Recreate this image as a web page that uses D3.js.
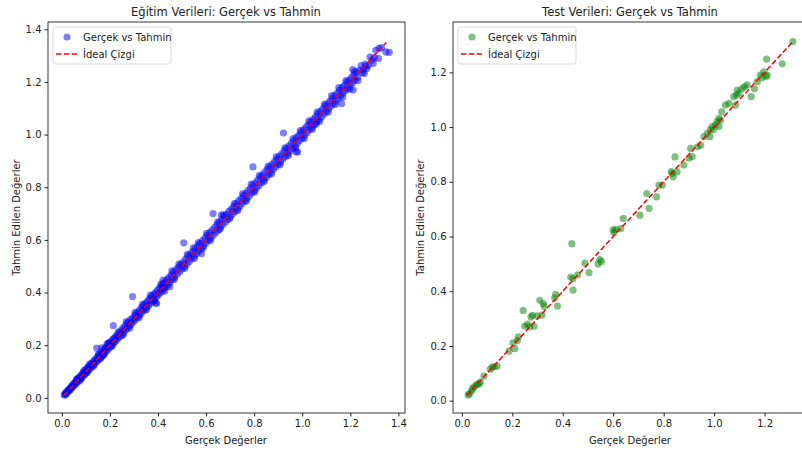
<!DOCTYPE html>
<html lang="tr">
<head>
  <meta charset="utf-8">
  <title>Gerçek vs Tahmin</title>
  <script src="https://d3js.org/d3.v7.min.js"></script>
  <style>
    body { margin: 0; background: #fff; }
    svg text { font-family: "DejaVu Sans", sans-serif; fill: #222; }
    .tick line { stroke: #222; }
  </style>
</head>
<body>
  <svg width="802" height="452" id="chart"></svg>

  <script type="text/javascript">
    // egitim verileri [gercek, tahmin]
    const trainPoints = [
      [0.010,0.012],[0.013,0.010],[0.015,0.018],[0.018,0.016],[0.020,0.024],[0.022,0.019],[0.025,0.028],[0.027,0.024],
      [0.030,0.033],[0.032,0.029],[0.035,0.038],[0.037,0.033],[0.040,0.044],[0.042,0.039],[0.045,0.049],[0.047,0.043],
      [0.050,0.054],[0.052,0.048],[0.055,0.060],[0.058,0.053],[0.060,0.066],[0.062,0.058],[0.065,0.070],[0.068,0.062],
      [0.070,0.076],[0.072,0.067],[0.075,0.080],[0.078,0.073],[0.080,0.086],[0.083,0.077],[0.085,0.091],[0.088,0.082],
      [0.090,0.097],[0.093,0.087],[0.095,0.101],[0.098,0.092],[0.100,0.108],[0.103,0.097],[0.105,0.112],[0.108,0.103],
      [0.110,0.118],[0.113,0.107],[0.116,0.122],[0.119,0.113],[0.122,0.130],[0.125,0.118],[0.128,0.134],[0.131,0.125],
      [0.134,0.142],[0.137,0.130],[0.140,0.146],[0.143,0.137],[0.146,0.153],[0.149,0.141],[0.152,0.160],[0.155,0.147],
      [0.158,0.165],[0.161,0.153],[0.164,0.172],[0.167,0.158],[0.170,0.177],[0.173,0.165],[0.176,0.184],[0.179,0.171],
      [0.182,0.190],[0.185,0.177],[0.188,0.197],[0.191,0.183],[0.194,0.203],[0.197,0.190],[0.200,0.210],[0.203,0.196],
      [0.206,0.215],[0.209,0.201],[0.212,0.222],[0.215,0.207],[0.218,0.227],[0.221,0.213],[0.224,0.233],[0.227,0.219],
      [0.230,0.238],[0.234,0.226],[0.238,0.247],[0.242,0.233],[0.246,0.255],[0.250,0.241],[0.254,0.265],[0.258,0.249],
      [0.262,0.272],[0.266,0.258],[0.270,0.282],[0.274,0.265],[0.278,0.288],[0.282,0.274],[0.286,0.297],[0.290,0.281],
      [0.294,0.303],[0.298,0.290],[0.302,0.312],[0.306,0.297],[0.310,0.320],[0.314,0.306],[0.318,0.328],[0.322,0.314],
      [0.326,0.337],[0.330,0.321],[0.334,0.345],[0.338,0.330],[0.342,0.353],[0.346,0.336],[0.350,0.361],[0.354,0.344],
      [0.358,0.369],[0.362,0.352],[0.366,0.377],[0.370,0.360],[0.374,0.386],[0.378,0.368],[0.382,0.393],[0.386,0.376],
      [0.390,0.401],[0.394,0.384],[0.398,0.409],[0.402,0.392],[0.406,0.418],[0.410,0.399],[0.414,0.426],[0.418,0.407],
      [0.422,0.434],[0.426,0.416],[0.430,0.441],[0.434,0.423],[0.438,0.450],[0.442,0.431],[0.446,0.458],[0.450,0.439],
      [0.455,0.467],[0.460,0.450],[0.465,0.478],[0.470,0.459],[0.475,0.487],[0.480,0.470],[0.485,0.497],[0.490,0.479],
      [0.495,0.508],[0.500,0.489],[0.505,0.516],[0.510,0.499],[0.515,0.527],[0.520,0.508],[0.525,0.537],[0.530,0.518],
      [0.535,0.547],[0.540,0.528],[0.545,0.556],[0.550,0.538],[0.555,0.567],[0.560,0.548],[0.565,0.577],[0.570,0.557],
      [0.575,0.587],[0.580,0.567],[0.585,0.597],[0.590,0.578],[0.595,0.607],[0.600,0.588],[0.605,0.617],[0.610,0.598],
      [0.615,0.628],[0.620,0.607],[0.625,0.637],[0.630,0.618],[0.635,0.647],[0.640,0.627],[0.645,0.657],[0.650,0.637],
      [0.655,0.668],[0.660,0.647],[0.665,0.677],[0.670,0.657],[0.675,0.687],[0.680,0.667],[0.685,0.697],[0.690,0.677],
      [0.695,0.708],[0.700,0.687],[0.705,0.717],[0.710,0.698],[0.715,0.727],[0.720,0.707],[0.725,0.738],[0.730,0.717],
      [0.735,0.748],[0.740,0.727],[0.745,0.757],[0.750,0.738],[0.755,0.768],[0.760,0.747],[0.765,0.777],[0.770,0.757],
      [0.775,0.788],[0.780,0.767],[0.785,0.797],[0.790,0.778],[0.795,0.808],[0.800,0.787],[0.805,0.817],[0.810,0.797],
      [0.815,0.828],[0.820,0.807],[0.825,0.838],[0.830,0.817],[0.835,0.847],[0.840,0.828],[0.845,0.858],[0.850,0.837],
      [0.855,0.868],[0.860,0.847],[0.865,0.877],[0.870,0.857],[0.875,0.888],[0.880,0.868],[0.885,0.897],[0.890,0.877],
      [0.895,0.908],[0.900,0.887],[0.905,0.918],[0.910,0.897],[0.915,0.927],[0.920,0.907],[0.925,0.938],[0.930,0.917],
      [0.935,0.948],[0.940,0.927],[0.945,0.957],[0.950,0.938],[0.955,0.968],[0.960,0.947],[0.965,0.977],[0.970,0.958],
      [0.975,0.988],[0.980,0.967],[0.985,0.997],[0.990,0.978],[0.995,1.008],[1.000,0.987],[1.005,1.018],[1.010,0.997],
      [1.015,1.028],[1.020,1.007],[1.025,1.037],[1.030,1.018],[1.035,1.048],[1.040,1.027],[1.045,1.058],[1.050,1.037],
      [1.055,1.067],[1.060,1.048],[1.065,1.078],[1.070,1.057],[1.075,1.088],[1.080,1.067],[1.085,1.097],[1.090,1.078],
      [1.095,1.108],[1.100,1.087],[1.105,1.118],[1.110,1.097],[1.115,1.127],[1.120,1.108],[1.125,1.138],[1.130,1.117],
      [1.135,1.148],[1.140,1.128],[1.145,1.157],[1.150,1.138],[1.155,1.168],[1.160,1.147],[1.165,1.178],[1.170,1.158],
      [1.175,1.187],[1.180,1.168],[1.185,1.198],[1.190,1.177],[1.195,1.207],[1.200,1.188],[1.205,1.217],[1.210,1.197],
      [1.215,1.227],[1.220,1.207],[1.225,1.237],[1.230,1.218],[1.240,1.245],[1.250,1.235],[1.262,1.268],[1.275,1.262],
      [1.290,1.283],[1.300,1.292],
      // bandin kenarindaki noktalar
      [0.115,0.128],[0.132,0.121],[0.175,0.163],[0.188,0.205],[0.235,0.250],[0.255,0.238],[0.268,0.290],[0.283,0.265],
      [0.305,0.325],[0.322,0.305],[0.335,0.355],[0.352,0.335],[0.368,0.390],[0.385,0.368],[0.412,0.432],[0.428,0.405],
      [0.458,0.482],[0.468,0.450],[0.487,0.508],[0.512,0.492],[0.522,0.545],[0.552,0.530],[0.568,0.590],[0.588,0.570],
      [0.602,0.625],[0.618,0.598],[0.648,0.668],[0.658,0.640],[0.672,0.695],[0.698,0.680],[0.718,0.738],[0.732,0.712],
      [0.752,0.775],[0.768,0.748],[0.788,0.812],[0.802,0.782],[0.822,0.845],[0.842,0.822],[0.858,0.880],[0.872,0.850],
      [0.892,0.915],[0.908,0.885],[0.928,0.950],[0.942,0.920],[0.962,0.985],[0.972,0.950],[0.992,1.015],[1.008,0.985],
      [1.028,1.052],[1.042,1.020],[1.062,1.085],[1.072,1.050],[1.092,1.115],[1.108,1.085],[1.122,1.148],[1.138,1.115],
      [1.152,1.178],[1.168,1.142],[1.182,1.205],[1.198,1.172],[1.218,1.240],[1.232,1.205],[1.245,1.262],[1.268,1.250],
      [1.282,1.295],[1.295,1.270],[1.330,1.330],[0.062,0.072],[0.078,0.068],[0.092,0.104],[0.105,0.096],[0.152,0.166],
      [0.162,0.150],[0.195,0.210],[0.208,0.195],
      // disaridaki noktalar
      [0.922,1.006],[0.795,0.877],[0.629,0.700],[1.212,1.169],[1.164,1.118],[1.210,1.247],[0.975,0.934],[0.981,0.934],
      [1.348,1.314],[1.362,1.312],[1.317,1.289],[1.320,1.327],[1.306,1.320],[1.255,1.245],[1.265,1.260],[1.258,1.232],
      [1.058,1.040],[0.294,0.385],[0.214,0.274],[0.145,0.189],[0.166,0.190],[0.507,0.589],[0.547,0.570],[0.581,0.548],
      [0.421,0.419],[0.449,0.422],[0.421,0.447],[0.391,0.361],[0.394,0.358],[0.664,0.694]
    ];

    // test verileri [gercek, tahmin]
    const testPoints = [
      [0.436,0.574],[0.488,0.503],[0.547,0.516],[0.553,0.508],[0.540,0.500],[0.504,0.468],[0.432,0.452],[0.440,0.445],
      [0.459,0.460],[0.441,0.404],[0.372,0.389],[0.368,0.375],[0.379,0.346],[0.309,0.367],[0.323,0.355],[0.326,0.345],
      [0.243,0.330],[0.280,0.312],[0.274,0.306],[0.300,0.310],[0.318,0.313],[0.249,0.272],[0.269,0.270],[0.260,0.280],
      [0.286,0.272],[0.224,0.233],[0.220,0.220],[0.203,0.211],[0.187,0.181],[0.210,0.190],[0.121,0.123],[0.128,0.124],
      [0.140,0.126],[0.113,0.115],[0.088,0.090],[0.069,0.062],[0.056,0.056],[0.042,0.044],[0.030,0.025],[0.025,0.021],
      [0.038,0.035],[0.073,0.068],[0.062,0.060],[0.048,0.050],
      [1.312,1.312],[1.208,1.248],[1.270,1.231],[1.197,1.202],[1.206,1.185],[1.190,1.180],[1.210,1.190],[1.183,1.190],
      [1.171,1.166],[1.147,1.111],[1.160,1.140],[1.131,1.154],[1.120,1.147],[1.110,1.140],[1.092,1.135],[1.088,1.117],
      [1.078,1.111],[1.098,1.123],[1.085,1.080],[1.058,1.087],[1.045,1.080],[1.030,1.056],[1.019,1.032],[1.012,1.020],
      [1.005,1.008],[0.992,1.002],[0.985,0.990],[0.997,0.990],[1.019,1.002],[1.025,1.025],[0.983,0.965],[0.973,0.977],
      [0.960,0.965],[0.947,0.934],[0.934,0.928],[0.907,0.922],[0.913,0.892],[0.900,0.886],[0.845,0.891],[0.880,0.861],
      [0.834,0.831],[0.838,0.818],[0.853,0.837],[0.830,0.837],[0.781,0.788],[0.795,0.788],[0.733,0.757],[0.772,0.745],
      [0.742,0.703],[0.706,0.678],[0.640,0.666],[0.610,0.626],[0.600,0.624],[0.603,0.615],[0.630,0.629]
    ];

    // ideal cizgi uclari
    const idealTrain = [0.01, 1.35];
    const idealTest = [0.02, 1.315];

    const xTicks = [0.0, 0.2, 0.4, 0.6, 0.8, 1.0, 1.2, 1.4];
    const yTicksTrain = [0.0, 0.2, 0.4, 0.6, 0.8, 1.0, 1.2, 1.4];
    const yTicksTest = [0.0, 0.2, 0.4, 0.6, 0.8, 1.0, 1.2];

    let svg = d3.select("#chart");

    function drawPanel(opts) {
      let g = svg.append("g");
      let x = d3.scaleLinear().domain(opts.xDomain).range([opts.left, opts.right]);
      let y = d3.scaleLinear().domain(opts.yDomain).range([opts.bottom, opts.top]);

      // points
      g.append("g").selectAll("circle").data(opts.points)
        .enter()
        .append("circle")
        .attr("cx", d => x(d[0]))
        .attr("cy", d => y(d[1]))
        .attr("r", 3.6)
        .attr("fill", opts.color)
        .attr("fill-opacity", 0.5);

      // ideal line
      g.append("line")
        .attr("x1", x(opts.ideal[0])).attr("y1", y(opts.ideal[0]))
        .attr("x2", x(opts.ideal[1])).attr("y2", y(opts.ideal[1]))
        .attr("stroke", "red")
        .attr("stroke-width", 1.5)
        .attr("stroke-dasharray", "5.5,2.4");

      // frame
      g.append("rect")
        .attr("x", opts.left).attr("y", opts.top)
        .attr("width", opts.right - opts.left).attr("height", opts.bottom - opts.top)
        .attr("fill", "none").attr("stroke", "#222").attr("stroke-width", 0.9);

      let xAxis = d3.axisBottom(x).tickValues(opts.xTicks).tickFormat(d3.format(".1f")).tickSize(3.5).tickPadding(3);
      let yAxis = d3.axisLeft(y).tickValues(opts.yTicks).tickFormat(d3.format(".1f")).tickSize(3.5).tickPadding(3);

      let xa = g.append("g").attr("transform", "translate(0," + opts.bottom + ")").call(xAxis);
      let ya = g.append("g").attr("transform", "translate(" + opts.left + ",0)").call(yAxis);
      xa.select(".domain").remove();
      ya.select(".domain").remove();
      g.selectAll(".tick text").attr("font-size", 10).attr("font-family", "DejaVu Sans, sans-serif").attr("fill", "#222");

      // title and labels
      g.append("text").attr("x", opts.titleX).attr("y", 16)
        .attr("text-anchor", "middle").attr("font-size", 11.5).text(opts.title);
      g.append("text").attr("x", opts.titleX).attr("y", 444)
        .attr("text-anchor", "middle").attr("font-size", 10).text("Gerçek Değerler");
      g.append("text")
        .attr("transform", "translate(" + opts.ylabelX + "," + ((opts.top + opts.bottom) / 2) + ") rotate(-90)")
        .attr("text-anchor", "middle").attr("font-size", 10).text("Tahmin Edilen Değerler");

      // legend
      let lg = g.append("g").attr("transform", "translate(" + (opts.left + 5) + "," + (opts.top + 5) + ")");
      lg.append("rect").attr("width", 118).attr("height", 37).attr("rx", 2.5)
        .attr("fill", "#fff").attr("fill-opacity", 0.8)
        .attr("stroke", "#d6d6d6").attr("stroke-width", 0.9);
      lg.append("circle").attr("cx", 14).attr("cy", 10).attr("r", 3.6)
        .attr("fill", opts.color).attr("fill-opacity", 0.5);
      lg.append("text").attr("x", 30).attr("y", 13.5).attr("font-size", 10).text("Gerçek vs Tahmin");
      lg.append("line").attr("x1", 3).attr("x2", 24).attr("y1", 27).attr("y2", 27)
        .attr("stroke", "red").attr("stroke-width", 1.5).attr("stroke-dasharray", "5.5,2.4");
      lg.append("text").attr("x", 30).attr("y", 30.5).attr("font-size", 10).text("İdeal Çizgi");
    }

    drawPanel({
      points: trainPoints, color: "#0000ff", ideal: idealTrain,
      xDomain: [-0.0575, 1.4275], yDomain: [-0.0575, 1.4275],
      left: 48, right: 405, top: 22, bottom: 413,
      xTicks: xTicks, yTicks: yTicksTrain,
      title: "Eğitim Verileri: Gerçek vs Tahmin", titleX: 226, ylabelX: 20
    });

    drawPanel({
      points: testPoints, color: "#008000", ideal: idealTest,
      xDomain: [-0.035, 1.38], yDomain: [-0.045, 1.384],
      left: 453, right: 810, top: 22, bottom: 413,
      xTicks: xTicks.slice(0, 7), yTicks: yTicksTest,
      title: "Test Verileri: Gerçek vs Tahmin", titleX: 630, ylabelX: 424
    });
  </script>
</body>
</html>
